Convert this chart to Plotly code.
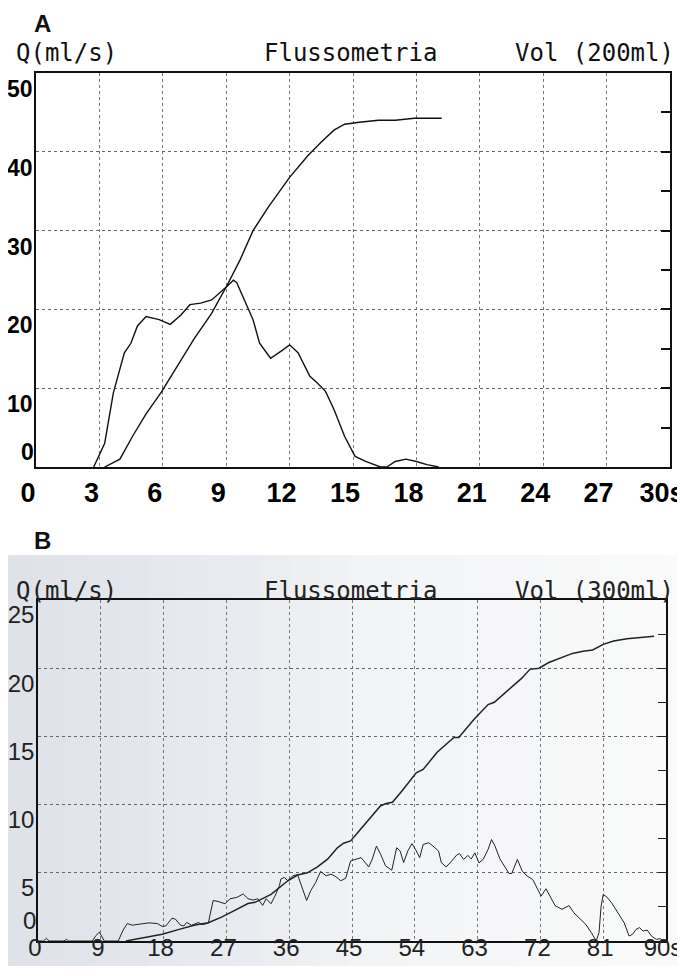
import plotly.graph_objects as go

# ---- panel A (0-30 s, Q 0-50 ml/s, Vol scale 200 ml) ----
a_flow_t = [2.73, 3.25, 3.66, 4.18, 4.49, 4.8, 5.21, 5.83, 6.35, 6.86, 7.28, 7.79, 8.31, 8.72,
            9.03, 9.34, 9.5, 9.86, 10.27, 10.58, 11.1, 11.6, 12.0, 12.4, 12.96, 13.3, 13.7,
            14.1, 14.6, 15.1, 15.6, 16.3, 16.6, 17.0, 17.5, 18.0, 18.5, 19.05]
a_flow_q = [0, 3.0, 9.4, 14.5, 15.7, 17.9, 19.1, 18.7, 18.1, 19.3, 20.6, 20.8, 21.2, 22.1,
            22.9, 23.7, 23.4, 21.2, 18.7, 15.7, 13.8, 14.7, 15.5, 14.5, 11.5, 10.7, 9.6,
            7.3, 3.9, 1.35, 0.7, 0, 0, 0.7, 1.0, 0.7, 0.3, 0]
a_vol_t = [3.25, 3.97, 4.59, 5.21, 5.93, 6.66, 7.48, 8.31, 9.03, 9.65, 10.27, 11.0, 12.0,
           12.86, 13.5, 14.1, 14.6, 15.3, 16.2, 17.0, 17.9, 19.2]
a_vol_ml = [0, 4, 16, 27, 38, 51, 65, 78, 92, 105, 120, 132, 147, 158, 165, 171, 174, 175,
            176, 176, 177, 177]
a_xticks = [0, 3, 6, 9, 12, 15, 18, 21, 24, 27, 30]
a_xlabels = ["0", "3", "6", "9", "12", "15", "18", "21", "24", "27", "30s"]
a_yticks = [10, 20, 30, 40, 50]
a_vol_ticks = [0, 20, 40, 60, 80, 100, 120, 140, 160, 180, 200]
a_titles = ["Q(ml/s)", "Flussometria", "Vol (200ml)"]

# ---- panel B (0-90 s, Q 0-25 ml/s, Vol scale 300 ml) ----
b_flow_t = [0, 0.8, 1.2, 1.6, 3.7, 4.1, 4.4, 7.8, 8.3, 8.8, 9.5, 11.5, 12.2, 12.8, 13.5, 14.2,
            15.0, 15.9, 17.1, 17.8, 18.3, 19.2, 19.7, 20.4, 20.9, 21.3, 22.0, 23.0, 23.5, 24.4,
            25.1, 25.8, 26.8, 27.5, 28.5, 29.4, 30.1, 30.8, 31.5, 32.2, 32.7, 33.4, 34.1, 34.6,
            34.8, 35.3, 35.8, 36.5, 37.2, 37.9, 38.5, 39.1, 39.8, 40.5, 41.3, 42.0, 42.7, 43.4,
            44.1, 44.8, 45.5, 46.3, 46.7, 47.4, 47.9, 48.5, 49.1, 49.8, 50.7, 51.4, 51.9, 52.4,
            53.0, 53.6, 54.1, 54.7, 55.2, 56.0, 56.6, 57.4, 57.8, 58.5, 59.3, 60.0, 60.4, 61.0,
            61.6, 62.1, 62.6, 63.2, 63.8, 64.5, 65.0, 65.5, 66.2, 66.9, 67.5, 67.9, 68.7, 69.4,
            70.1, 70.9, 71.6, 72.1, 72.8, 73.4, 74.1, 75.1, 76.1, 76.8, 77.8, 78.5, 79.3, 80.0,
            80.4, 80.7, 81.0, 81.5, 82.2, 83.2, 84.0, 84.7, 85.2, 85.7, 86.2, 86.7, 87.3, 87.9,
            88.6, 89.2, 89.6]
b_flow_q = [0, 0, 0.2, 0, 0, 0.12, 0, 0, 0.4, 0.65, 0, 0, 0.8, 1.28, 1.16, 1.2,
            1.25, 1.33, 1.28, 1.07, 1.1, 1.67, 1.6, 1.17, 1.1, 1.36, 1.15, 1.36, 1.2, 1.3,
            2.97, 2.9, 2.73, 3.09, 3.2, 3.45, 3.1, 3.0, 3.1, 2.61, 3.1, 2.73, 3.45, 4.06,
            4.54, 4.66, 4.42, 4.78, 4.86, 3.82, 2.97, 3.7, 4.3, 5.1, 4.78, 4.9, 4.71, 4.42,
            4.6, 5.87, 6.0, 6.11, 5.87, 5.43, 6.0, 6.96, 6.36, 5.51, 5.19, 6.84, 6.6, 5.75,
            6.6, 7.14, 6.72, 6.11, 7.08, 7.2, 6.96, 6.6, 5.75, 5.43, 5.87, 6.3, 6.41, 5.98,
            6.27, 6.02, 6.46, 5.73, 5.98, 6.71, 7.44, 6.95, 6.02, 5.49, 4.95, 4.95, 5.98, 5.12,
            4.76, 4.51, 3.78, 3.29, 3.83, 3.29, 2.6, 2.32, 2.6, 2.07, 1.59, 1.22, 0.61, 0,
            0.61, 2.56, 3.41, 3.24, 2.8, 1.95, 1.34, 0.37, 0.49, 0.85, 0.98, 0.73, 0.8, 0.37,
            0.12, 0.17, 0]
b_vol_t = [12.6, 15.4, 17.8, 20.1, 22.5, 24.4, 26.3, 28.2, 30.1, 31.1, 33.4, 35.8, 37.2, 38.6,
           40.0, 41.5, 42.9, 43.8, 44.8, 46.2, 47.6, 49.1, 49.9, 50.8, 52.3, 54.2, 55.2, 57.2,
           59.6, 60.3, 62.5, 64.5, 65.4, 67.4, 69.3, 70.5, 71.8, 73.2, 75.2, 76.6, 78.1, 79.5,
           81.0, 82.5, 84.4, 86.4, 88.3]
b_vol_ml = [0, 3, 6, 10, 14, 16, 21, 27, 33, 34, 41, 53, 58, 60,
            65, 72, 82, 86, 88, 98, 108, 119, 121, 122, 133, 148, 151, 166,
            179, 179, 195, 208, 210, 221, 231, 239, 240, 245, 250, 253, 255, 256,
            261, 264, 266, 267, 268]
b_xticks = [0, 9, 18, 27, 36, 45, 54, 63, 72, 81, 90]
b_xlabels = ["0", "9", "18", "27", "36", "45", "54", "63", "72", "81", "90s"]
b_yticks = [5, 10, 15, 20, 25]
b_vol_ticks = [0, 30, 60, 90, 120, 150, 180, 210, 240, 270, 300]
b_titles = ["Q(ml/s)", "Flussometria", "Vol (300ml)"]

SANS = "Liberation Sans, Arial, sans-serif"
MONO = "DejaVu Sans Mono, monospace"

# the page body adds an 8px offset, so the figure is sized to the visible area
OFF = 8
W, H = 685 - OFF, 976 - OFF


def xp(px):
    return (px - OFF) / W


def yp(py):
    return 1 - (py - OFF) / H


fig = go.Figure()

# A traces
fig.add_trace(go.Scatter(x=a_flow_t, y=a_flow_q, mode="lines", xaxis="x", yaxis="y",
                         line=dict(color="#111", width=1.4)))
fig.add_trace(go.Scatter(x=a_vol_t, y=a_vol_ml, mode="lines", xaxis="x", yaxis="y3",
                         line=dict(color="#111", width=1.4)))
# B traces
fig.add_trace(go.Scatter(x=b_flow_t, y=b_flow_q, mode="lines", xaxis="x2", yaxis="y2",
                         line=dict(color="#222", width=1)))
fig.add_trace(go.Scatter(x=b_vol_t, y=b_vol_ml, mode="lines", xaxis="x2", yaxis="y4",
                         line=dict(color="#222", width=1.5)))
# invisible point so the label axis of B gets drawn
fig.add_trace(go.Scatter(x=[b_xticks[0]], y=[b_yticks[0]], xaxis="x3", yaxis="y2", mode="markers",
                         marker=dict(opacity=0), hoverinfo="skip"))

# B photo background: soft bluish-grey fading to white to the right
stops = [(0.0, (222, 226, 233)), (0.35, (232, 235, 240)), (0.55, (243, 244, 246)), (1.0, (250, 250, 250))]
nb = 24
for i in range(nb):
    f = (i + 0.5) / nb
    for (f0, c0), (f1, c1) in zip(stops[:-1], stops[1:]):
        if f0 <= f <= f1:
            k = (f - f0) / (f1 - f0)
            c = tuple(round(c0[j] + (c1[j] - c0[j]) * k) for j in range(3))
            break
    fig.add_shape(type="rect", xref="paper", yref="paper", x0=i / nb, x1=(i + 1) / nb + 0.002,
                  y0=yp(966), y1=yp(555), fillcolor="rgb(%d,%d,%d)" % c, line_width=0, layer="below")

axis_common = dict(showline=True, linecolor="#111", linewidth=1.5, mirror=True, zeroline=False,
                   showgrid=True, gridcolor="#666", griddash="dot", gridwidth=1, ticks="",
                   automargin=False, ticklabeloverflow="allow")

a_font = dict(family=SANS, size=27, color="#000", weight="bold")
a_yfont = dict(family=SANS, size=23, color="#000", weight="bold")
b_font = dict(family=SANS, size=24, color="#222")
b_yfont = dict(family=SANS, size=24, color="#222")

fig.update_layout(
    width=W, height=H, margin=dict(l=0, r=0, t=0, b=0, autoexpand=False),
    paper_bgcolor="white", plot_bgcolor="rgba(0,0,0,0)", showlegend=False,
    xaxis=dict(axis_common, domain=[xp(36), xp(670)], range=[0, 30], anchor="y",
               tickvals=a_xticks, ticktext=a_xlabels, ticklabelstandoff=1, ticklabelshift=-8,
               tickfont=a_font),
    yaxis=dict(axis_common, domain=[yp(467), yp(73)], range=[0, 50], anchor="x",
               tickvals=a_yticks, ticklabelshift=16, ticklabelstandoff=-3, tickfont=a_yfont),
    yaxis3=dict(overlaying="y", side="right", anchor="x", range=[0, 200], showgrid=False,
                zeroline=False, showline=False, tickvals=a_vol_ticks, ticks="inside",
                ticklen=9, tickwidth=1.5, tickcolor="#111", showticklabels=False, automargin=False),
    xaxis2=dict(axis_common, domain=[xp(38), xp(666)], range=[0, 90], anchor="y2",
                tickvals=b_xticks, showticklabels=False),
    # label row of B sits a little higher, overlapping the frame as on the print
    xaxis3=dict(overlaying="x2", anchor="free", position=yp(931), range=[0, 90],
                showgrid=False, zeroline=False, showline=False, automargin=False, ticks="",
                tickvals=b_xticks, ticktext=b_xlabels, ticklabeloverflow="allow",
                ticklabelshift=-3, tickfont=b_font),
    yaxis2=dict(axis_common, domain=[yp(941), yp(600)], range=[0, 25], anchor="x2",
                tickvals=b_yticks, ticklabelshift=15, ticklabelstandoff=-3, tickfont=b_yfont),
    yaxis4=dict(overlaying="y2", side="right", anchor="x2", range=[0, 300], showgrid=False,
                zeroline=False, showline=False, tickvals=b_vol_ticks, ticks="inside",
                ticklen=8, tickwidth=1.2, tickcolor="#222", showticklabels=False, automargin=False),
)
fig.update_xaxes(gridcolor="#777")

# "0" labels sit just above the baseline
fig.add_annotation(text="0", xref="paper", yref="y", x=xp(36), y=0, xanchor="right", yanchor="bottom",
                   showarrow=False, font=a_yfont)
fig.add_annotation(text="0", xref="paper", yref="y2", x=xp(38), y=0, xanchor="right", yanchor="bottom",
                   yshift=5, showarrow=False, font=b_yfont)

# header rows
for titles, ytop, col in [(a_titles, 53, "#111"), (b_titles, 591, "#222")]:
    fig.add_annotation(text=titles[0], xref="paper", yref="paper", x=xp(14), y=yp(ytop), xanchor="left",
                       yanchor="middle", showarrow=False, font=dict(family=MONO, size=24, color=col))
    fig.add_annotation(text=titles[1], xref="paper", yref="paper", x=xp(350), y=yp(ytop), xanchor="center",
                       yanchor="middle", showarrow=False, font=dict(family=MONO, size=24, color=col))
    fig.add_annotation(text=titles[2], xref="paper", yref="paper", x=xp(676), y=yp(ytop), xanchor="right",
                       yanchor="middle", showarrow=False, font=dict(family=MONO, size=24, color=col))

# panel letters ("A" is pinned to the top edge so it is not clipped)
fig.add_annotation(text="<b>A</b>", xref="paper", yref="paper", x=xp(42), y=1,
                   xanchor="center", yanchor="top", showarrow=False,
                   font=dict(family=SANS, size=24, color="#111"))
fig.add_annotation(text="<b>B</b>", xref="paper", yref="paper", x=xp(42), y=yp(540),
                   xanchor="center", yanchor="middle", showarrow=False,
                   font=dict(family=SANS, size=24, color="#111"))

fig.write_html("out.html")
